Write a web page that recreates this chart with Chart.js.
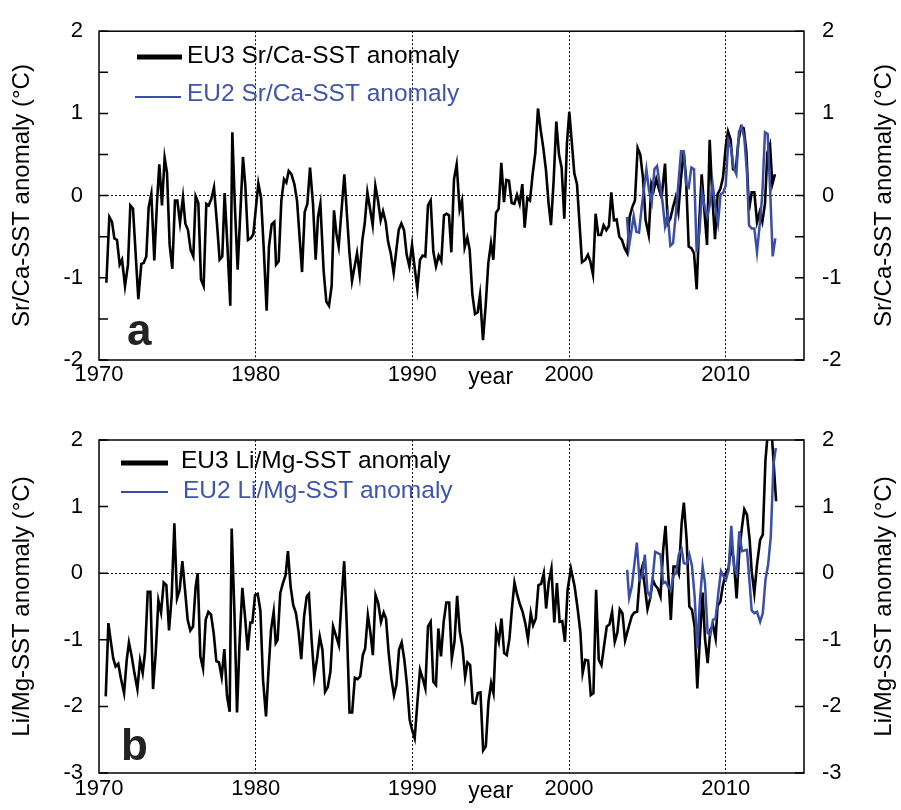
<!DOCTYPE html>
<html lang="en">
<head>
  <meta charset="UTF-8">
  <title>Sr/Ca and Li/Mg SST anomaly</title>
  <script src="https://cdn.jsdelivr.net/npm/chart.js@4"></script>
  <style>
    body {
      margin: 0;
      background: #fff;
    }
    .wrap {
      position: relative;
      width: 901px;
      height: 810px;
    }
    canvas {
      position: absolute;
      left: 0;
    }
    #chartA { top: 0; }
    #chartB { top: 400px; }
  </style>
</head>
<body>
  <div class="wrap">
    <canvas id="chartA" width="901" height="400"></canvas>
    <canvas id="chartB" width="901" height="410"></canvas>
  </div>

  <script>
    // [year, anomaly]
    const srcaEU3 = [
      [1970.47,-1.06],[1970.66,-0.26],[1970.83,-0.32],[1970.98,-0.52],[1971.15,-0.54],[1971.32,-0.84],[1971.47,-0.78],[1971.66,-1.10],
      [1971.85,-0.84],[1972.00,-0.12],[1972.17,-0.16],[1972.51,-1.26],[1972.70,-0.83],[1972.85,-0.82],[1973.02,-0.74],[1973.17,-0.14],
      [1973.34,0.02],[1973.53,-0.79],[1973.70,-0.09],[1973.85,0.38],[1974.02,-0.12],[1974.19,0.46],[1974.34,0.28],[1974.51,-0.60],
      [1974.68,-0.89],[1974.85,-0.06],[1975.00,-0.06],[1975.17,-0.33],[1975.36,-0.02],[1975.51,-0.34],[1975.68,-0.42],[1975.85,-0.66],
      [1976.02,-0.74],[1976.17,-0.01],[1976.34,-0.09],[1976.51,-1.02],[1976.68,-1.10],[1976.85,-0.10],[1977.00,-0.12],[1977.17,-0.04],
      [1977.34,0.10],[1977.53,-0.34],[1977.70,-0.78],[1977.87,-0.74],[1978.02,0.03],[1978.21,-0.66],[1978.38,-1.34],[1978.51,0.77],
      [1978.68,-0.16],[1978.85,-0.90],[1979.19,0.47],[1979.34,0.12],[1979.51,-0.54],[1979.68,-0.52],[1979.85,-0.47],[1980.00,-0.18],
      [1980.17,0.15],[1980.34,-0.02],[1980.51,-0.62],[1980.70,-1.40],[1980.85,-0.62],[1981.02,-0.35],[1981.19,-0.32],[1981.30,-0.84],
      [1981.47,-0.80],[1981.64,-0.06],[1981.81,0.20],[1981.96,0.16],[1982.11,0.30],[1982.28,0.26],[1982.47,0.14],[1982.64,-0.06],
      [1982.96,-0.93],[1983.13,-0.20],[1983.30,-0.10],[1983.47,0.34],[1983.66,-0.10],[1983.83,-0.78],[1983.98,-0.26],[1984.13,-0.10],
      [1984.34,-0.92],[1984.51,-1.29],[1984.68,-1.34],[1984.85,-1.10],[1985.00,-0.18],[1985.15,-0.46],[1985.30,-0.62],[1985.66,0.26],
      [1985.98,-0.68],[1986.15,-1.04],[1986.47,-0.70],[1986.64,-0.96],[1986.81,-0.54],[1986.96,-0.34],[1987.13,0.04],[1987.30,-0.16],
      [1987.47,-0.36],[1987.64,0.12],[1987.81,-0.06],[1987.98,-0.30],[1988.13,-0.19],[1988.30,-0.32],[1988.45,-0.56],[1988.62,-0.70],
      [1988.81,-0.94],[1988.98,-0.66],[1989.13,-0.42],[1989.30,-0.34],[1989.47,-0.42],[1989.64,-0.72],[1989.81,-0.86],[1989.98,-0.60],
      [1990.15,-0.88],[1990.32,-1.14],[1990.49,-0.78],[1990.66,-0.73],[1990.83,-0.74],[1991.00,-0.12],[1991.17,-0.06],[1991.34,-0.68],
      [1991.51,-0.86],[1991.68,-0.73],[1991.85,-0.80],[1992.02,-0.24],[1992.19,-0.22],[1992.34,-0.24],[1992.49,-0.69],[1992.66,0.20],
      [1992.83,0.38],[1993.02,-0.17],[1993.17,-0.06],[1993.34,-0.63],[1993.51,-0.51],[1993.66,-0.66],[1993.83,-1.20],[1994.00,-1.44],
      [1994.17,-1.42],[1994.32,-1.21],[1994.51,-1.76],[1994.68,-1.34],[1994.85,-0.82],[1995.02,-0.58],[1995.17,-0.78],[1995.34,-0.21],
      [1995.51,-0.16],[1995.68,0.40],[1995.85,-0.08],[1996.00,0.19],[1996.17,0.18],[1996.34,-0.09],[1996.51,-0.10],[1996.68,0.01],
      [1996.85,-0.10],[1997.02,0.14],[1997.17,-0.39],[1997.34,-0.03],[1997.51,-0.06],[1997.68,0.26],[1997.85,0.52],[1998.02,1.06],
      [1998.19,0.80],[1998.36,0.58],[1998.53,0.31],[1998.70,-0.10],[1998.85,-0.36],[1999.02,0.18],[1999.19,0.90],[1999.36,0.50],
      [1999.53,0.34],[1999.70,-0.28],[1999.87,0.64],[2000.02,1.02],[2000.34,0.27],[2000.51,0.14],[2000.83,-0.81],[2001.04,-0.78],
      [2001.21,-0.72],[2001.36,-0.80],[2001.53,-0.96],[2001.70,-0.22],[2001.87,-0.48],[2002.04,-0.48],[2002.21,-0.36],[2002.38,-0.42],
      [2002.55,-0.37],[2002.70,0.04],[2002.87,-0.30],[2003.04,-0.29],[2003.21,-0.50],[2003.38,-0.54],[2003.55,-0.64],[2003.72,-0.70],
      [2003.87,-0.26],[2004.04,-0.14],[2004.21,-0.06],[2004.38,0.58],[2004.55,0.50],[2004.72,0.22],[2004.89,-0.30],[2005.09,-0.48],
      [2005.26,0.14],[2005.40,0.06],[2005.57,0.20],[2005.74,0.08],[2005.91,-0.02],[2006.13,0.39],[2006.30,-0.34],[2006.47,-0.28],
      [2006.64,-0.14],[2006.81,-0.02],[2006.98,-0.20],[2007.15,0.22],[2007.32,0.54],[2007.47,0.22],[2007.64,-0.62],[2007.81,-0.64],
      [2007.98,-0.70],[2008.15,-1.14],[2008.30,-0.38],[2008.47,0.26],[2008.64,-0.18],[2008.81,-0.60],[2008.98,0.68],[2009.15,-0.02],
      [2009.32,-0.53],[2009.49,0.02],[2009.66,0.08],[2009.83,0.22],[2010.00,0.59],[2010.15,0.78],[2010.32,0.68],[2010.47,0.32],
      [2010.64,0.30],[2010.81,0.66],[2010.98,0.84],[2011.15,0.82],[2011.32,0.54],[2011.49,-0.18],[2011.66,0.04],[2011.83,0.04],
      [2012.00,-0.32],[2012.17,-0.20],[2012.34,-0.32],[2012.51,-0.10],[2012.66,0.52],[2012.83,0.62],[2012.98,0.14],[2013.15,0.26]
    ];

    const srcaEU2 = [
      [2003.70,-0.26],[2003.83,-0.62],[2004.13,-0.25],[2004.30,-0.44],[2004.47,-0.45],[2004.64,-0.14],[2004.94,0.32],[2005.11,0.06],
      [2005.28,-0.08],[2005.45,0.32],[2005.62,0.36],[2005.79,0.14],[2005.96,-0.06],[2006.13,-0.37],[2006.30,-0.22],[2006.47,-0.61],
      [2006.64,-0.58],[2006.81,-0.24],[2006.98,0.14],[2007.15,0.54],[2007.32,0.54],[2007.47,0.14],[2007.64,0.10],[2007.81,0.34],
      [2007.98,0.32],[2008.15,-0.69],[2008.32,-0.46],[2008.49,0.04],[2008.66,-0.14],[2008.83,-0.26],[2009.00,-0.10],[2009.17,0.14],
      [2009.34,-0.14],[2009.51,-0.34],[2009.68,0.02],[2009.83,0.03],[2010.00,0.12],[2010.17,0.67],[2010.34,0.58],[2010.51,0.34],
      [2010.68,0.26],[2010.85,0.78],[2011.02,0.84],[2011.19,0.70],[2011.36,0.28],[2011.49,-0.36],[2011.66,-0.40],[2011.83,-0.40],
      [2012.00,-0.69],[2012.17,-0.36],[2012.34,0.02],[2012.51,0.77],[2012.68,0.75],[2012.85,0.02],[2013.00,-0.74],[2013.17,-0.52]
    ];

    const limgEU3 = [
      [1970.43,-1.85],[1970.60,-0.75],[1970.74,-1.00],[1970.91,-1.28],[1971.06,-1.40],[1971.23,-1.36],[1971.40,-1.58],[1971.60,-1.80],
      [1971.77,-1.30],[1971.91,-1.04],[1972.09,-1.25],[1972.26,-1.50],[1972.45,-1.74],[1972.62,-1.31],[1972.79,-1.50],[1972.94,-1.18],
      [1973.11,-0.28],[1973.28,-0.28],[1973.45,-1.74],[1973.62,-1.20],[1973.79,-0.41],[1973.96,-0.59],[1974.13,-0.14],[1974.30,-0.18],
      [1974.47,-0.86],[1974.64,-0.35],[1974.81,0.75],[1974.98,-0.38],[1975.15,-0.25],[1975.32,0.18],[1975.49,-0.25],[1975.66,-0.70],
      [1975.83,-0.86],[1976.00,-0.80],[1976.17,-0.20],[1976.30,0.00],[1976.47,-1.25],[1976.64,-1.43],[1976.81,-0.70],[1976.98,-0.58],
      [1977.15,-0.62],[1977.32,-0.90],[1977.49,-1.32],[1977.66,-1.34],[1977.83,-1.56],[1978.00,-1.14],[1978.17,-1.84],[1978.34,-2.08],
      [1978.47,0.67],[1978.64,-0.55],[1978.81,-2.09],[1978.98,-1.00],[1979.15,-0.22],[1979.32,-0.65],[1979.49,-1.16],[1979.66,-0.74],
      [1979.79,-0.74],[1979.96,-0.33],[1980.13,-0.31],[1980.30,-0.56],[1980.47,-1.60],[1980.66,-2.15],[1980.81,-1.50],[1980.98,-0.85],
      [1981.15,-0.58],[1981.28,-1.05],[1981.40,-1.00],[1981.57,-0.30],[1981.74,-0.15],[1981.91,-0.03],[1982.06,0.33],[1982.23,-0.20],
      [1982.40,-0.48],[1982.57,-0.60],[1982.74,-0.88],[1982.91,-1.29],[1983.09,-0.65],[1983.26,-0.35],[1983.40,-0.31],[1983.57,-1.00],
      [1983.74,-1.55],[1983.91,-1.30],[1984.09,-0.95],[1984.26,-1.15],[1984.43,-1.78],[1984.60,-1.71],[1984.77,-1.48],[1984.94,-0.80],
      [1985.14,-0.95],[1985.31,-1.08],[1985.48,-0.40],[1985.65,0.18],[1985.82,-0.80],[1985.99,-2.09],[1986.16,-2.09],[1986.33,-1.57],
      [1986.50,-1.59],[1986.67,-1.55],[1986.84,-1.23],[1986.99,-1.13],[1987.16,-0.63],[1987.33,-0.90],[1987.48,-1.23],[1987.65,-0.33],
      [1987.82,-0.45],[1988.00,-0.73],[1988.17,-0.59],[1988.32,-0.68],[1988.49,-1.20],[1988.66,-1.58],[1988.83,-1.83],[1988.98,-1.68],
      [1989.15,-1.15],[1989.32,-1.04],[1989.49,-1.30],[1989.66,-1.68],[1989.83,-2.20],[1989.98,-2.35],[1990.15,-2.48],[1990.32,-1.95],
      [1990.49,-1.45],[1990.66,-1.58],[1990.83,-1.73],[1991.00,-0.80],[1991.17,-0.73],[1991.34,-1.63],[1991.51,-1.68],[1991.66,-0.83],
      [1991.83,-1.25],[1992.00,-0.73],[1992.17,-0.44],[1992.35,-0.44],[1992.52,-1.28],[1992.69,-1.03],[1992.86,-0.34],[1993.03,-0.88],
      [1993.20,-1.11],[1993.37,-1.56],[1993.52,-1.34],[1993.69,-1.38],[1993.86,-1.95],[1994.03,-1.96],[1994.18,-1.80],[1994.35,-1.79],
      [1994.52,-2.66],[1994.69,-2.60],[1994.86,-1.93],[1995.03,-1.65],[1995.18,-1.80],[1995.35,-0.86],[1995.52,-1.03],[1995.69,-0.68],
      [1995.86,-1.20],[1996.03,-1.23],[1996.20,-0.98],[1996.35,-0.55],[1996.52,-0.14],[1996.70,-0.33],[1996.87,-0.47],[1997.04,-0.58],
      [1997.21,-0.75],[1997.38,-0.99],[1997.56,-0.60],[1997.71,-0.78],[1997.88,-0.68],[1998.05,-0.18],[1998.22,-0.16],[1998.39,0.00],
      [1998.54,-0.53],[1998.71,-0.13],[1998.88,0.07],[1999.06,-0.74],[1999.23,-0.15],[1999.40,-0.73],[1999.57,-0.72],[1999.74,-1.03],
      [1999.91,-0.25],[2000.12,0.07],[2000.36,-0.20],[2000.55,-0.53],[2000.73,-0.89],[2000.87,-1.50],[2001.04,-1.30],[2001.22,-1.31],
      [2001.39,-1.83],[2001.56,-1.80],[2001.73,-0.25],[2001.90,-1.30],[2002.07,-1.38],[2002.24,-1.09],[2002.41,-0.80],[2002.58,-0.77],
      [2002.75,-0.58],[2002.92,-1.03],[2003.09,-0.89],[2003.24,-0.54],[2003.41,-0.60],[2003.58,-1.01],[2003.75,-0.86],[2004.01,-0.64],
      [2004.18,-0.59],[2004.35,-0.58],[2004.52,-0.05],[2004.67,0.09],[2004.84,-0.20],[2005.01,-0.54],[2005.18,-0.38],[2005.35,-0.10],
      [2005.50,-0.18],[2005.67,-0.23],[2005.84,-0.35],[2006.01,0.35],[2006.16,0.71],[2006.33,0.00],[2006.50,-0.70],[2006.67,0.10],
      [2006.84,0.10],[2007.01,-0.01],[2007.19,0.75],[2007.33,1.06],[2007.51,0.50],[2007.68,-0.50],[2007.85,-0.55],[2008.02,-0.80],
      [2008.19,-1.73],[2008.36,-0.95],[2008.53,-0.29],[2008.68,-0.98],[2008.85,-1.35],[2009.02,-0.85],[2009.19,-0.78],[2009.36,-0.98],
      [2009.48,-0.49],[2009.66,-0.43],[2009.81,-0.20],[2010.02,0.01],[2010.19,0.08],[2010.36,0.45],[2010.53,0.15],[2010.70,-0.38],
      [2010.87,0.33],[2011.04,0.69],[2011.19,0.96],[2011.36,0.88],[2011.53,0.50],[2011.66,0.03],[2011.83,-0.30],[2012.00,0.13],
      [2012.20,0.50],[2012.37,0.58],[2012.54,1.70],[2012.83,2.50],[2013.22,1.08]
    ];

    const limgEU2 = [
      [2003.71,0.05],[2003.84,-0.37],[2004.01,-0.20],[2004.33,0.46],[2004.50,-0.10],[2004.67,-0.05],[2004.84,0.28],[2005.01,-0.28],
      [2005.18,-0.35],[2005.35,-0.05],[2005.50,0.32],[2005.67,0.30],[2005.84,0.28],[2006.01,-0.15],[2006.16,-0.13],[2006.33,-0.20],
      [2006.50,-0.25],[2006.67,-0.03],[2006.84,0.00],[2007.01,0.28],[2007.19,0.36],[2007.33,0.15],[2007.51,0.14],[2007.68,0.28],
      [2007.85,0.11],[2008.02,-0.35],[2008.19,-1.13],[2008.36,-0.40],[2008.53,0.10],[2008.68,-0.15],[2008.85,-0.90],[2009.02,-0.93],
      [2009.19,-0.70],[2009.36,-0.68],[2009.53,-0.30],[2009.70,0.03],[2009.85,-0.04],[2010.02,-0.10],[2010.19,0.05],[2010.36,0.71],
      [2010.53,0.10],[2010.70,-0.01],[2010.87,0.63],[2011.04,0.33],[2011.19,0.34],[2011.36,0.35],[2011.53,-0.15],[2011.66,-0.56],
      [2011.83,-0.60],[2012.00,-0.58],[2012.20,-0.73],[2012.37,-0.60],[2012.54,-0.10],[2012.71,0.13],[2012.88,0.55],[2013.05,1.63],
      [2013.20,1.88]
    ];

    const yearTicks = [1970, 1980, 1990, 2000, 2010];
    const xRange = [1970, 2015];
    const srcaRange = [-2, 2];
    const limgRange = [-3, 2];

    const BLACK = '#000000';
    const BLUE = '#3b4ea5';
    Chart.defaults.font.family = '"Liberation Sans", Arial, sans-serif';
    Chart.defaults.color = '#000';

    const toPoints = pairs => pairs.map(([x, y]) => ({ x, y }));

    // frame, inward ticks, legend, panel letter, right title, "year"
    const decor = {
      id: 'decor',
      afterDatasetsDraw(chart, args, o) {
        const { ctx, chartArea: a, scales } = chart;
        ctx.save();

        ctx.strokeStyle = '#000';
        ctx.lineWidth = 1.5;
        ctx.strokeRect(a.left, a.top, a.right - a.left, a.bottom - a.top);

        scales.y.ticks.forEach(t => {
          const py = scales.y.getPixelForValue(t.value);
          ctx.beginPath();
          ctx.moveTo(a.left, py);
          ctx.lineTo(a.left + 9, py);
          ctx.moveTo(a.right - 9, py);
          ctx.lineTo(a.right, py);
          ctx.stroke();
        });

        ctx.font = '24.5px "Liberation Sans", Arial, sans-serif';
        ctx.textBaseline = 'middle';
        ctx.textAlign = 'left';
        chart.data.datasets.forEach((ds, i) => {
          const row = o.legend[i];
          ctx.strokeStyle = ds.borderColor;
          ctx.lineWidth = row.w;
          ctx.beginPath();
          ctx.moveTo(row.x0, row.ly);
          ctx.lineTo(row.x1, row.ly);
          ctx.stroke();
          ctx.fillStyle = ds.borderColor === BLACK ? '#000' : '#3f55ad';
          ctx.fillText(ds.label, row.tx, row.ty);
        });

        ctx.fillStyle = '#222';
        ctx.font = 'bold 44px "Liberation Sans", Arial, sans-serif';
        ctx.textBaseline = 'alphabetic';
        ctx.fillText(o.letter, o.letterX, o.letterY);

        ctx.fillStyle = '#000';
        ctx.font = '23px "Liberation Sans", Arial, sans-serif';
        ctx.textAlign = 'center';
        ctx.fillText('year', scales.x.getPixelForValue(1995), o.yearY);

        ctx.translate(884, (a.top + a.bottom) / 2);
        ctx.rotate(-Math.PI / 2);
        ctx.font = '24px "Liberation Sans", Arial, sans-serif';
        ctx.textBaseline = 'middle';
        ctx.fillText(o.title, 0, 0);
        ctx.restore();
      }
    };

    function makeChart(id, cfg) {
      const yTicks = {
        stepSize: cfg.step,
        font: { size: 22 },
        callback: v => Number.isInteger(v) ? String(v) : ''
      };
      return new Chart(document.getElementById(id), {
        type: 'line',
        data: {
          datasets: [
            { label: cfg.labels[0], data: toPoints(cfg.eu3), borderColor: BLACK, borderWidth: 2.6, order: 1 },
            { label: cfg.labels[1], data: toPoints(cfg.eu2), borderColor: BLUE, borderWidth: 2.5, order: 0 }
          ]
        },
        options: {
          responsive: false,
          animation: false,
          layout: { padding: { top: cfg.top, left: 0, right: 0, bottom: 0 } },
          elements: { point: { radius: 0 }, line: { tension: 0 } },
          plugins: {
            legend: { display: false },
            tooltip: { enabled: false },
            decor: {
              legend: cfg.legend,
              letter: cfg.letter,
              letterX: cfg.letterX,
              letterY: cfg.letterY,
              yearY: cfg.yearY,
              title: cfg.title
            }
          },
          scales: {
            x: {
              type: 'linear',
              min: xRange[0],
              max: xRange[1],
              afterFit: s => { s.height = cfg.xHeight; },
              ticks: {
                stepSize: 10,
                includeBounds: false,
                maxRotation: 0,
                padding: cfg.xPad,
                font: { size: 22 },
                callback: v => yearTicks.includes(v) ? String(v) : ''
              },
              grid: {
                drawTicks: false,
                lineWidth: 1,
                color: c => (c.tick && c.tick.value > xRange[0] && c.tick.value < xRange[1]) ? '#111' : 'rgba(0,0,0,0)'
              },
              border: { display: false, dash: [2, 2] }
            },
            y: {
              position: 'left',
              min: cfg.range[0],
              max: cfg.range[1],
              afterFit: s => { s.width = 99; },
              ticks: Object.assign({ padding: 16 }, yTicks),
              grid: {
                drawTicks: false,
                lineWidth: 1,
                color: c => (c.tick && c.tick.value === 0) ? '#111' : 'rgba(0,0,0,0)'
              },
              border: { display: false, dash: [2, 2] },
              title: {
                display: true,
                text: cfg.title,
                font: { size: 24 },
                padding: { top: 8, bottom: 0 }
              }
            },
            y2: {
              position: 'right',
              min: cfg.range[0],
              max: cfg.range[1],
              afterFit: s => { s.width = 97; },
              ticks: Object.assign({ padding: 18 }, yTicks),
              grid: { display: false, drawTicks: false },
              border: { display: false }
            }
          }
        },
        plugins: [decor]
      });
    }

    makeChart('chartA', {
      eu3: srcaEU3,
      eu2: srcaEU2,
      labels: ['EU3 Sr/Ca-SST anomaly', 'EU2 Sr/Ca-SST anomaly'],
      title: 'Sr/Ca-SST anomaly (\u00B0C)',
      range: srcaRange,
      step: 0.5,
      top: 27,
      xHeight: 40,
      xPad: 2,
      letter: 'a',
      letterX: 127,
      letterY: 345,
      yearY: 384,
      legend: [
        { x0: 137, x1: 182, ly: 57, w: 5, tx: 187, ty: 56 },
        { x0: 135, x1: 181, ly: 97, w: 2, tx: 187, ty: 94 }
      ]
    });

    makeChart('chartB', {
      eu3: limgEU3,
      eu2: limgEU2,
      labels: ['EU3 Li/Mg-SST anomaly', 'EU2 Li/Mg-SST anomaly'],
      title: 'Li/Mg-SST anomaly (\u00B0C)',
      range: limgRange,
      step: 1,
      top: 40,
      xHeight: 37,
      xPad: 3,
      letter: 'b',
      letterX: 121,
      letterY: 360,
      yearY: 398,
      legend: [
        { x0: 121, x1: 168, ly: 63, w: 5, tx: 181, ty: 61 },
        { x0: 121, x1: 168, ly: 92, w: 2, tx: 183, ty: 91 }
      ]
    });
  </script>
</body>
</html>
